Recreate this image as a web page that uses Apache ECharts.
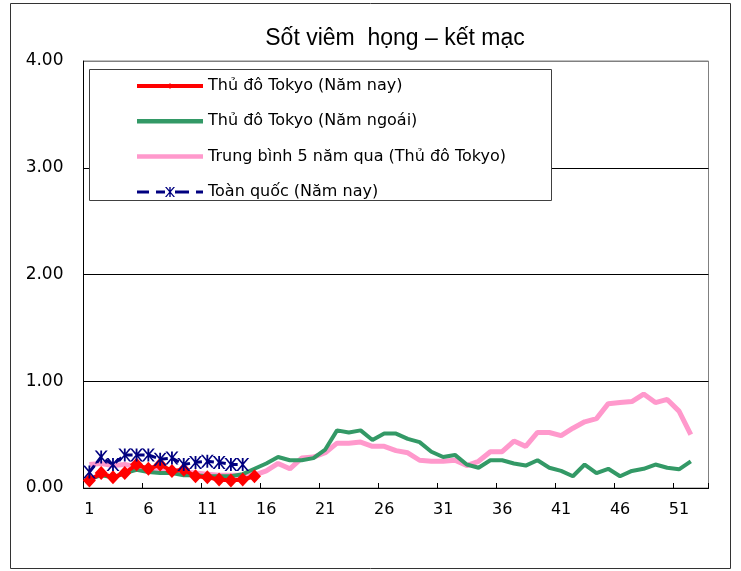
<!DOCTYPE html>
<html><head><meta charset="utf-8">
<script src="https://cdn.jsdelivr.net/npm/echarts@6/dist/echarts.min.js"></script>
<style>html,body{margin:0;padding:0;background:#fff}#c{width:741px;height:571px}</style>
</head><body><div id="c"></div>
<script>
const titleText = 'Sốt viêm  họng – kết mạc';
const weeks = ['1','2','3','4','5','6','7','8','9','10','11','12','13','14','15','16','17','18','19','20',
  '21','22','23','24','25','26','27','28','29','30','31','32','33','34','35','36','37','38','39','40',
  '41','42','43','44','45','46','47','48','49','50','51','52','53'];
const seriesNames = ['Thủ đô Tokyo (Năm nay)','Thủ đô Tokyo (Năm ngoái)','Trung bình 5 năm qua (Thủ đô Tokyo)','Toàn quốc (Năm nay)'];
const tokyoThisYear = [0.07,0.14,0.10,0.14,0.22,0.18,0.22,0.16,0.17,0.11,0.10,0.08,0.07,0.08,0.11];
const tokyoLastYear = [0.08,0.12,0.10,0.14,0.17,0.15,0.14,0.14,0.12,0.12,0.11,0.11,0.11,0.13,0.18,
  0.23,0.29,0.26,0.26,0.28,0.36,0.54,0.52,0.54,0.45,0.51,0.51,0.46,0.43,0.34,
  0.29,0.31,0.22,0.19,0.26,0.26,0.23,0.21,0.26,0.19,0.16,0.11,0.22,0.14,0.18,0.11,0.16,0.18,0.22,0.19,0.175,0.25];
const avg5Years = [0.22,0.23,0.21,0.22,0.20,0.18,0.17,0.16,0.15,0.14,0.13,0.12,0.12,0.12,0.12,
  0.16,0.23,0.18,0.28,0.29,0.33,0.42,0.42,0.43,0.39,0.39,0.35,0.33,0.26,0.25,
  0.25,0.26,0.21,0.25,0.34,0.34,0.44,0.39,0.52,0.52,0.49,0.56,0.62,0.65,0.79,0.80,0.81,0.88,0.80,0.83,0.72,0.50];
const nationalThisYear = [0.15,0.29,0.22,0.31,0.31,0.31,0.27,0.28,0.22,0.24,0.25,0.24,0.22,0.22];
const yMin = 0, yMax = 4, yStep = 1;

const asterisk = 'path://M0,0 L1.6,0 L5,4.1 L8.4,0 L10,0 L5.8,5 L10,10 L8.4,10 L5,5.9 L1.6,10 L0,10 L4.2,5 Z M4.3,0 L5.7,0 L5.7,10 L4.3,10 Z';
const barIcon = 'path://M0,0 L66,0 L66,4.5 L0,4.5 Z';
const redIcon = 'path://M0,1 L66,1 L66,5 L0,5 Z M33,0 L35.5,3 L33,6 L30.5,3 Z';
const blueIcon = 'path://M0,3.5 L12,3.5 L12,6.5 L0,6.5 Z M19,3.5 L28,3.5 L28,6.5 L19,6.5 Z M38,3.5 L52,3.5 L52,6.5 L38,6.5 Z M59,3.5 L66,3.5 L66,6.5 L59,6.5 Z ' +
  'M28,0 L29.6,0 L33,4.1 L36.4,0 L38,0 L33.8,5 L38,10 L36.4,10 L33,5.9 L29.6,10 L28,10 L32.2,5 Z M32.3,0 L33.7,0 L33.7,10 L32.3,10 Z';
const axisFont = 'DejaVu Sans';

const chart = echarts.init(document.getElementById('c'), null, {renderer:'canvas'});
chart.setOption({
  animation:false,
  backgroundColor:'#fff',
  title:{text:titleText,left:390,textAlign:'center',top:22,
    textStyle:{fontFamily:'Liberation Sans, Arial, sans-serif',fontSize:23,fontWeight:'normal',color:'#000'}},
  graphic:[
    {type:'rect',z:0,silent:true,shape:{x:10.5,y:3.5,width:720,height:565},style:{fill:null,stroke:'#333',lineWidth:1}},
    {type:'rect',z:3,silent:true,shape:{x:89.5,y:69.5,width:462,height:131},style:{fill:'#fff',stroke:'#404040',lineWidth:1}}
  ],
  legend:{
    orient:'vertical',left:137,top:78,padding:0,itemWidth:66,itemHeight:14,itemGap:19.3,z:5,
    selectedMode:false,
    data:[
      {name:seriesNames[0],icon:redIcon},
      {name:seriesNames[1],icon:barIcon},
      {name:seriesNames[2],icon:barIcon},
      {name:seriesNames[3],icon:blueIcon}
    ],
    textStyle:{fontFamily:'DejaVu Sans',fontSize:16,color:'#000'}
  },
  grid:{left:83.5,right:32.5,top:61,bottom:83,show:true,borderColor:'#808080',borderWidth:1},
  xAxis:{type:'category',data:weeks,boundaryGap:true,
    axisLine:{lineStyle:{color:'#000',width:1}},
    axisTick:{show:true,inside:true,length:5,interval:4,lineStyle:{color:'#000'}},
    axisLabel:{interval:4,margin:14,fontFamily:axisFont,fontSize:16,color:'#000'},
    splitLine:{show:false}},
  yAxis:{type:'value',min:yMin,max:yMax,interval:yStep,
    axisLine:{show:true,lineStyle:{color:'#000',width:1}},
    axisTick:{show:false},
    axisLabel:{margin:20,fontFamily:axisFont,fontSize:17,color:'#000',formatter:v=>v.toFixed(2)},
    splitLine:{show:true,lineStyle:{color:['#000','#000','#000','#000','#808080'],width:1}}},
  series:[
    {name:seriesNames[0],type:'line',data:tokyoThisYear,z:4,
      symbol:'diamond',symbolSize:[13,14],showSymbol:true,showAllSymbol:true,
      itemStyle:{color:'#ff0000'},lineStyle:{color:'#ff0000',width:4}},
    {name:seriesNames[1],type:'line',data:tokyoLastYear,z:3,showSymbol:false,symbol:'none',
      itemStyle:{color:'#339966'},lineStyle:{color:'#339966',width:4}},
    {name:seriesNames[2],type:'line',data:avg5Years,z:2,showSymbol:false,symbol:'none',
      itemStyle:{color:'#ff99cc'},lineStyle:{color:'#ff99cc',width:5}},
    {name:seriesNames[3],type:'line',data:nationalThisYear,z:5,
      symbol:asterisk,symbolSize:13,showSymbol:true,showAllSymbol:true,
      itemStyle:{color:'#000080'},lineStyle:{color:'#000080',width:3,type:[8,4]}}
  ]
});
</script></body></html>
